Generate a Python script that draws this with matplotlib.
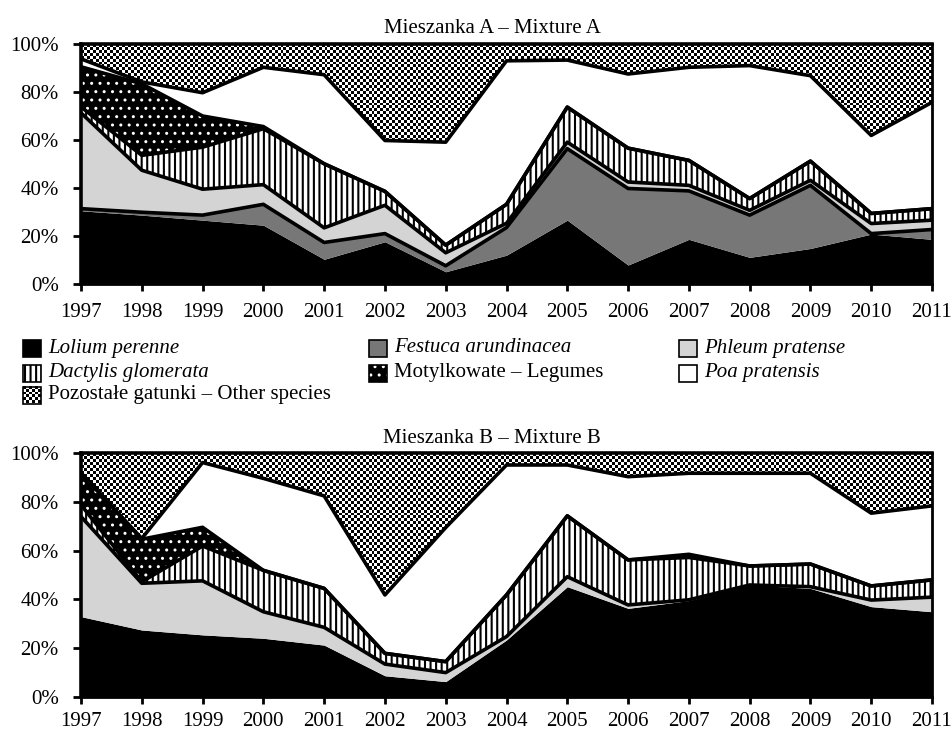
import matplotlib
matplotlib.use('Agg')
import matplotlib.pyplot as plt
import numpy as np
from matplotlib.patches import Rectangle

plt.rcParams['font.family'] = ['Liberation Serif', 'DejaVu Serif']
plt.rcParams['hatch.linewidth'] = 1.5

years = np.arange(1997, 2012)

# Mieszanka A - udzial gatunkow (%)
a_lolium   = [30.5, 28.7, 26.6, 24.5, 10.3, 17.6, 5.1, 12.0, 26.6, 7.9, 18.6, 11.1, 14.8, 20.8, 18.6]
a_festuca  = [0.9, 1.2, 2.1, 8.7, 7.0, 3.4, 2.5, 11.5, 29.8, 31.9, 20.2, 17.6, 26.3, 0.2, 4.1]
a_phleum   = [39.9, 17.5, 10.8, 8.2, 6.1, 11.8, 5.4, 1.8, 2.7, 2.7, 2.3, 2.0, 2.1, 4.2, 3.9]
a_dactylis = [2.5, 6.2, 17.5, 23.3, 26.7, 5.8, 3.2, 7.9, 14.6, 14.1, 10.4, 4.9, 8.0, 4.2, 4.8]
a_legumes  = [16.7, 29.8, 13.0, 0.9, 0, 0, 0, 0, 0, 0, 0, 0, 0, 0, 0]
a_poa      = [3.3, 0.8, 9.7, 24.7, 37.1, 21.2, 42.9, 59.8, 19.6, 30.9, 38.8, 55.4, 35.6, 32.5, 44.3]
a_other    = [6.2, 15.8, 20.3, 9.7, 12.8, 40.2, 40.9, 7.0, 6.7, 12.5, 9.7, 9.0, 13.2, 38.1, 24.3]

# Mieszanka B
b_lolium   = [32.9, 27.4, 25.4, 24.0, 21.2, 8.6, 6.2, 23.3, 45.2, 36.3, 39.5, 45.9, 44.5, 37.0, 34.9]
b_festuca  = [0] * 15
b_phleum   = [41.1, 19.2, 22.2, 10.9, 7.3, 4.8, 3.7, 1.4, 4.1, 1.4, 0.3, 0, 0.7, 2.7, 6.0]
b_dactylis = [4.8, 0.6, 14.3, 17.0, 16.0, 4.4, 4.5, 17.1, 25.0, 18.5, 17.4, 7.8, 9.3, 5.8, 7.1]
b_legumes  = [13.1, 17.5, 7.7, 0, 0, 0, 0, 0, 0, 0, 1.3, 0, 0, 0, 0]
b_poa      = [0, 0.3, 26.6, 37.8, 38.0, 24.0, 55.1, 53.4, 20.9, 34.2, 33.3, 38.1, 37.3, 29.9, 30.4]
b_other    = [8.1, 35.0, 3.8, 10.3, 17.5, 58.2, 30.5, 4.8, 4.8, 9.6, 8.2, 8.2, 8.2, 24.6, 21.6]

labels = ['Lolium perenne', 'Festuca arundinacea', 'Phleum pratense',
          'Dactylis glomerata', 'Motylkowate – Legumes', 'Poa pratensis',
          'Pozostałe gatunki – Other species']
italic = [True, True, True, True, False, True, False]

# styl warstw: (kolor wypelnienia, hatch, kolor hatcha, grubosc hatcha)
styles = [('black', None, 'black', 1.5),
          ('#777777', None, '#777777', 1.5),
          ('#d4d4d4', None, '#d4d4d4', 1.5),
          ('white', '|||', 'black', 1.5),
          ('black', '..', 'white', 1.0),
          ('white', None, 'white', 1.5),
          ('checker', None, None, 1.5)]

W, H = 951, 733


def checker(rows, cols):
    return np.indices((rows, cols)).sum(axis=0) % 2


def draw_mixture(ax, layers, xpad):
    data = np.array(layers, dtype=float)
    tops = np.cumsum(data, axis=0)
    bottoms = tops - data
    for i, (fc, hatch, hc, hlw) in enumerate(styles):
        if fc == 'checker':
            poly = ax.fill_between(years, bottoms[i], tops[i], facecolor='none', linewidth=0)
            im = ax.imshow(checker(82, 290), cmap='gray', vmin=0, vmax=1,
                           extent=(years[0], years[-1], 0, 100), aspect='auto',
                           interpolation='nearest', zorder=1)
            im.set_clip_path(poly.get_paths()[0], ax.transData)
        else:
            with plt.rc_context({'hatch.linewidth': hlw}):
                ax.fill_between(years, bottoms[i], tops[i], facecolor=fc, hatch=hatch,
                                edgecolor=hc, linewidth=0, zorder=1)
    # grube linie na granicach warstw
    for i in range(1, 6):
        if data[i].sum() == 0:
            continue
        ax.plot(years, tops[i], color='black', lw=2.6, zorder=3)

    ax.set_xlim(years[0], years[-1])
    ax.set_ylim(0, 100)
    ax.set_xticks(years)
    ax.set_xticklabels([str(y) for y in years])
    ax.set_yticks(range(0, 101, 20))
    ax.set_yticklabels([f'{v}%' for v in range(0, 101, 20)])
    ax.tick_params(axis='x', direction='out', length=5, width=2, labelsize=15, pad=xpad)
    ax.tick_params(axis='y', direction='out', length=6, width=2, labelsize=15, pad=10)
    for side in ['left', 'top']:
        ax.spines[side].set_linewidth(2.6)
    ax.spines['right'].set_linewidth(2)
    ax.spines['bottom'].set_linewidth(2)


fig = plt.figure(figsize=(W / 100, H / 100), dpi=100)

ax1 = fig.add_axes([81 / W, 1 - 284 / H, 851 / W, 240 / H])
draw_mixture(ax1, [a_lolium, a_festuca, a_phleum, a_dactylis, a_legumes, a_poa, a_other], 9)
fig.text(492 / W, 1 - 33 / H, 'Mieszanka A – Mixture A', ha='center', va='baseline', fontsize=15)

ax2 = fig.add_axes([81 / W, 1 - 696.7 / H, 851 / W, 243.4 / H])
draw_mixture(ax2, [b_lolium, b_festuca, b_phleum, b_dactylis, b_legumes, b_poa, b_other], 6)
fig.text(492 / W, 1 - 443 / H, 'Mieszanka B – Mixture B', ha='center', va='baseline', fontsize=15)

# legenda rysowana recznie w pikselach
leg = fig.add_axes([0, 0, 1, 1])
leg.axis('off')
col_x = [23, 369, 679]
row_y = [348, 373, 395]
order = [(0, 0), (1, 0), (2, 0), (0, 1), (1, 1), (2, 1), (0, 2)]
for i, (c, r) in enumerate(order):
    x0, yc = col_x[c], row_y[r]
    fc, hatch, hc, hlw = styles[i]
    if fc == 'checker':
        leg.imshow(checker(6, 6), cmap='gray', vmin=0, vmax=1,
                   extent=(x0, x0 + 18, yc + 8.5, yc - 8.5), aspect='auto',
                   interpolation='nearest', zorder=1)
    else:
        with plt.rc_context({'hatch.linewidth': hlw}):
            leg.add_patch(Rectangle((x0, yc - 8.5), 18, 17, facecolor=fc, hatch=hatch,
                                    edgecolor=hc, lw=0, zorder=1))
    leg.add_patch(Rectangle((x0, yc - 8.5), 18, 17, facecolor='none',
                            edgecolor='black', lw=1.2, zorder=2))
    leg.text(x0 + 25, yc, labels[i], fontsize=15, va='center', ha='left',
             fontstyle='italic' if italic[i] else 'normal')
leg.set_xlim(0, W)
leg.set_ylim(H, 0)

fig.savefig('out.png', dpi=100)
